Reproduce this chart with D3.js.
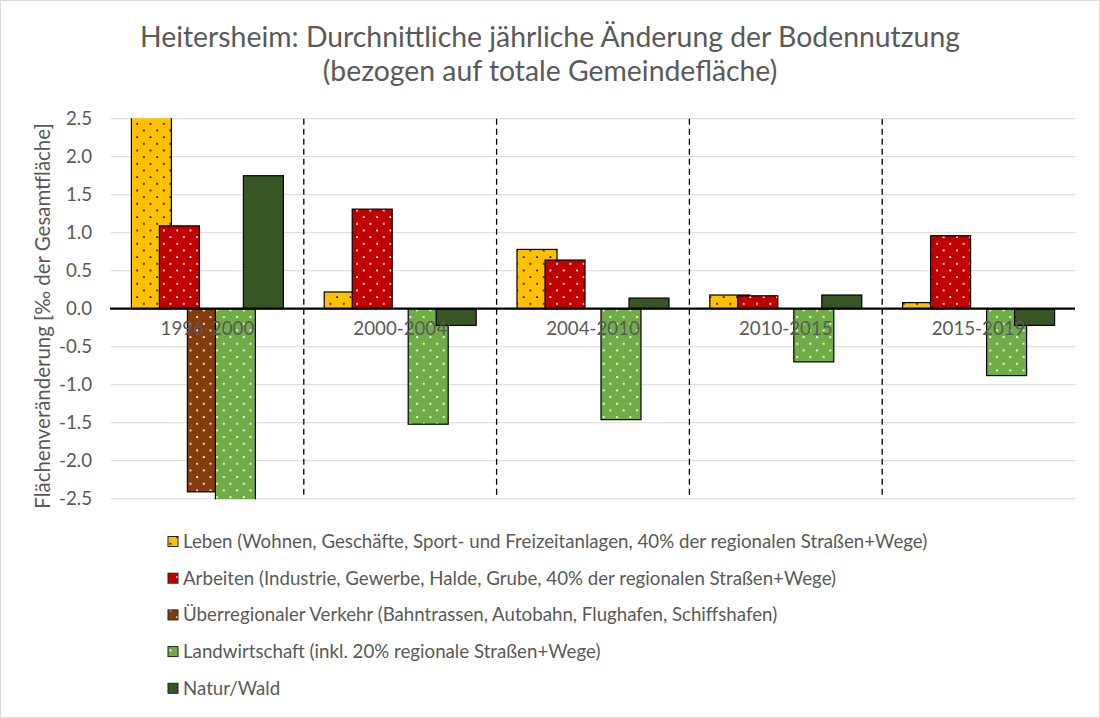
<!DOCTYPE html>
<html>
<head>
<meta charset="utf-8">
<script src="https://cdn.jsdelivr.net/npm/d3@7"></script>
<style>
  html, body { margin: 0; padding: 0; background: #fff; }
  svg { display: block; }
  text { font-family: Lato, "Open Sans", sans-serif; fill: #595959; }
</style>
</head>
<body>
<svg id="chart" width="1100" height="718"></svg>
<script>
// ---- data ----
const categories = ["1996-2000", "2000-2004", "2004-2010", "2010-2015", "2015-2019"];
const seriesNames = [
  "Leben (Wohnen, Geschäfte, Sport- und Freizeitanlagen, 40% der regionalen Straßen+Wege)",
  "Arbeiten (Industrie, Gewerbe, Halde, Grube, 40% der regionalen Straßen+Wege)",
  "Überregionaler Verkehr (Bahntrassen, Autobahn, Flughafen, Schiffshafen)",
  "Landwirtschaft (inkl. 20% regionale Straßen+Wege)",
  "Natur/Wald"
];
const leben          = [2.90, 0.22, 0.78, 0.18, 0.08];
const arbeiten       = [1.09, 1.31, 0.64, 0.17, 0.96];
const verkehr        = [-2.41, 0.00, 0.00, 0.00, 0.00];
const landwirtschaft = [-2.60, -1.52, -1.46, -0.70, -0.88];
const naturWald      = [1.75, -0.22, 0.14, 0.18, -0.22];
const yTicks = [2.5, 2.0, 1.5, 1.0, 0.5, 0.0, -0.5, -1.0, -1.5, -2.0, -2.5];
const titleLines = ["Heitersheim: Durchnittliche jährliche Änderung der Bodennutzung",
                    "(bezogen auf totale Gemeindefläche)"];
const yTitle = "Flächenveränderung [‰ der Gesamtfläche]";

const seriesValues = [leben, arbeiten, verkehr, landwirtschaft, naturWald];
const colors = ["#FFC000", "#C00000", "#843C0C", "#70AD47", "#375623"];
const dotColors = ["#1a1a1a", "#ffffff", "#ffffff", "#ffffff", null];

// ---- layout ----
const svg = d3.select("#chart");
const plot = { left: 111, right: 1075, top: 118.7, bottom: 498.7 };

svg.append("rect").attr("x", 0.5).attr("y", 0.5).attr("width", 1099).attr("height", 717)
  .attr("fill", "#fff").attr("stroke", "#D9D9D9");

const x = d3.scaleBand().domain(categories).range([plot.left, plot.right]).paddingInner(0).paddingOuter(0);
const xInner = d3.scalePoint().domain(d3.range(seriesNames.length)).range([-56, 56]);
const barW = 40;
const y = d3.scaleLinear().domain([-2.5, 2.5]).range([plot.bottom, plot.top]);

// patterns
const defs = svg.append("defs");
colors.forEach((c, i) => {
  const p = defs.append("pattern").attr("id", "pat" + i)
    .attr("patternUnits", "userSpaceOnUse").attr("width", 13.33).attr("height", 13.33);
  p.append("rect").attr("width", 13.33).attr("height", 13.33).attr("fill", c);
  if (dotColors[i]) {
    p.append("rect").attr("x", 3).attr("y", 3).attr("width", 1.8).attr("height", 1.8).attr("fill", dotColors[i]);
    p.append("rect").attr("x", 9.67).attr("y", 9.67).attr("width", 1.8).attr("height", 1.8).attr("fill", dotColors[i]);
  }
});
defs.append("clipPath").attr("id", "plotClip").append("rect")
  .attr("x", plot.left).attr("y", plot.top - 0.5)
  .attr("width", plot.right - plot.left).attr("height", plot.bottom - plot.top + 1);

// gridlines
svg.append("g").selectAll("line").data(yTicks.filter(t => t !== 0)).join("line")
  .attr("x1", plot.left).attr("x2", plot.right)
  .attr("y1", d => y(d)).attr("y2", d => y(d))
  .attr("stroke", "#D9D9D9").attr("stroke-width", 1);

// dashed separators
svg.append("g").selectAll("line").data(categories.slice(1)).join("line")
  .attr("x1", d => x(d)).attr("x2", d => x(d))
  .attr("y1", plot.top).attr("y2", plot.bottom)
  .attr("stroke", "#000").attr("stroke-width", 1.3).attr("stroke-dasharray", "6,4");

// bars
const barsG = svg.append("g").attr("clip-path", "url(#plotClip)");
seriesValues.forEach((vals, si) => {
  barsG.append("g").selectAll("rect").data(vals.map((v, ci) => ({ v, c: categories[ci] })).filter(d => d.v !== 0))
    .join("rect")
    .attr("x", d => x(d.c) + x.bandwidth() / 2 + xInner(si) - barW / 2)
    .attr("width", barW)
    .attr("y", d => y(Math.max(0, d.v)))
    .attr("height", d => Math.abs(y(d.v) - y(0)))
    .attr("fill", `url(#pat${si})`)
    .attr("stroke", "#000").attr("stroke-width", 1.2);
});

// zero axis line
svg.append("line").attr("x1", plot.left - 1).attr("x2", plot.right)
  .attr("y1", y(0)).attr("y2", y(0)).attr("stroke", "#000").attr("stroke-width", 2.2);

// ---- texts ----
function fit(sel, w) {
  const cur = sel.node().getComputedTextLength();
  const fs = parseFloat(sel.attr("font-size"));
  const nfs = fs * w / cur;
  sel.attr("font-size", nfs);
  return nfs / fs;
}

// legend
const legend = svg.append("g");
const legendTexts = [];
seriesNames.forEach((n, i) => {
  const yy = 541.5 + i * 36.7;
  legend.append("rect").attr("x", 168).attr("y", yy - 5).attr("width", 10).attr("height", 10)
    .attr("fill", `url(#pat${i})`).attr("stroke", "#222").attr("stroke-width", 1);
  legendTexts.push(legend.append("text").attr("x", 183).attr("y", yy).attr("dy", "0.35em")
    .attr("font-size", 18.7).text(n));
});
const k = fit(legendTexts[0], 745);
legendTexts.slice(1).forEach(t => t.attr("font-size", 18.7 * k));
const smallFs = 18.7 * k;

// y axis
const yAxis = d3.axisLeft(y).tickValues(yTicks).tickSize(0).tickPadding(19)
  .tickFormat(d => d.toFixed(1));
const gy = svg.append("g").attr("transform", `translate(${plot.left},0)`).call(yAxis);
gy.select(".domain").remove();
gy.selectAll("text").attr("font-size", smallFs).attr("font-family", "Lato, 'Open Sans', sans-serif").attr("fill", "#595959");

// category labels
svg.append("g").selectAll("text").data(categories).join("text")
  .attr("x", d => x(d) + x.bandwidth() / 2).attr("y", y(0) + 26)
  .attr("text-anchor", "middle").attr("font-size", smallFs).text(d => d);

// y title
const yt = svg.append("text").attr("transform", "translate(50,316) rotate(-90)")
  .attr("text-anchor", "middle").attr("font-size", smallFs).text(yTitle);
fit(yt, 385);

// title
const t1 = svg.append("text").attr("x", 550).attr("y", 47).attr("text-anchor", "middle")
  .attr("font-size", 26.7).text(titleLines[0]);
const kt = fit(t1, 820);
svg.append("text").attr("x", 550).attr("y", 81).attr("text-anchor", "middle")
  .attr("font-size", 26.7 * kt).text(titleLines[1]);
</script>
</body>
</html>
